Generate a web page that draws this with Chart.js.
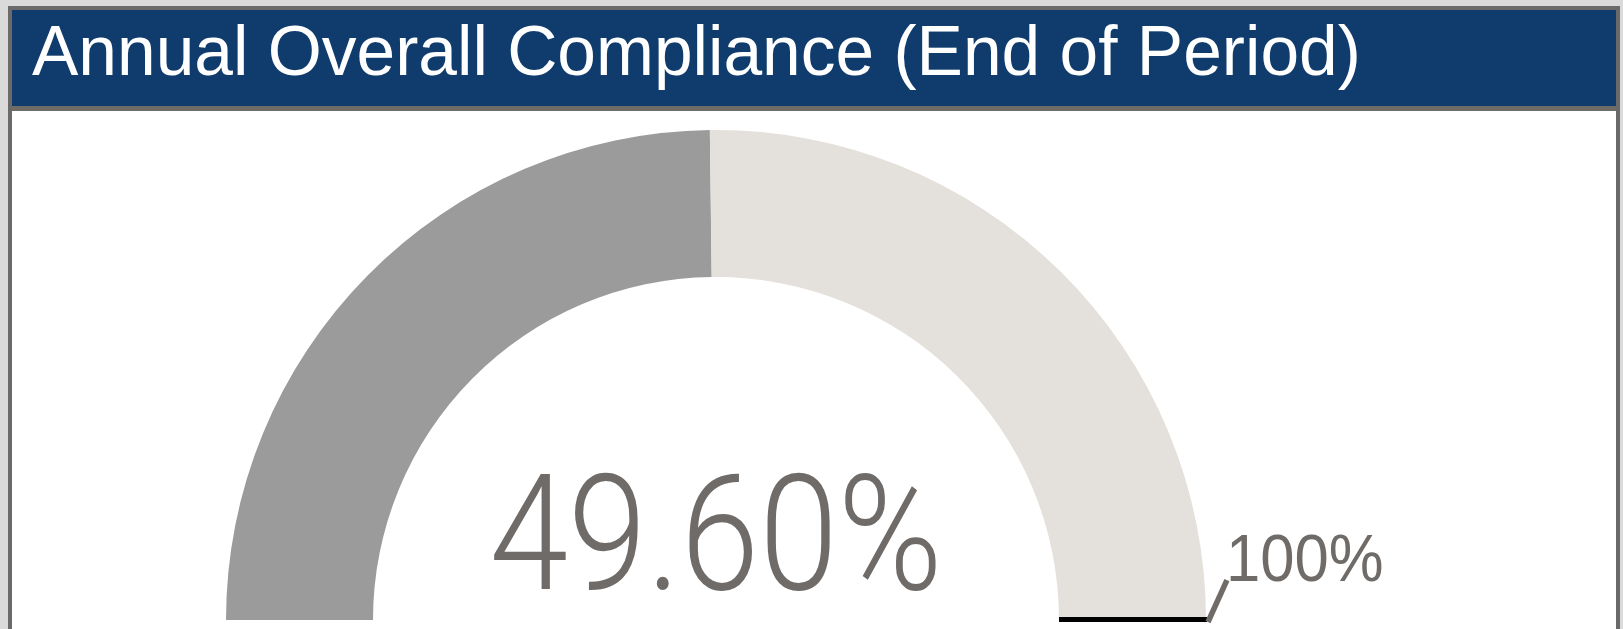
<!DOCTYPE html>
<html>
<head>
<meta charset="utf-8">
<script src="https://cdn.jsdelivr.net/npm/chart.js@4/dist/chart.umd.min.js"></script>
<style>
    html, body { margin: 0; padding: 0; }
    body { width: 1623px; height: 629px; background: #dadada; overflow: hidden; position: relative; }
    .panel {
        position: absolute; left: 8px; top: 6px; width: 1604px; height: 700px;
        border: 4px solid #6b6a69; border-bottom: none; background: #ffffff;
    }
    .panel-title {
        height: 89px; padding: 7px 0 0 20px; background: #0f3c6c;
        border-bottom: 5px solid #6f6b67;
        font-family: "Liberation Sans", Arial, sans-serif; font-size: 69.5px; line-height: 68px;
        color: #ffffff; white-space: nowrap;
    }
    .chart-wrap { position: absolute; left: 0; top: 101px; width: 1604px; height: 518px; }
</style>
</head>
<body>
<div class="panel">
    <div class="panel-title">Annual Overall Compliance (End of Period)</div>
    <div class="chart-wrap"><canvas id="gaugeChart"></canvas></div>
</div>
<script>
// Gauge data
const gaugeLabels = ['Compliant', 'Remaining'];
const gaugeValues = [49.6, 50.4];
const gaugeMax = 100;
const gaugeColors = ['#9b9b9b', '#e4e0db'];

const textColor = '#6f6b68';

// Draws the value in the middle, the black base edge and the 100% marker
const gaugeExtras = {
    id: 'gaugeExtras',
    afterDatasetsDraw(chart) {
        const ctx = chart.ctx;
        const meta = chart.getDatasetMeta(0);
        const rest = meta.data[1];
        if (!rest) return;
        const { x, y, innerRadius, outerRadius } = rest;

        ctx.save();
        // base edge of the unfilled part
        ctx.strokeStyle = '#000000';
        ctx.lineWidth = 5;
        ctx.beginPath();
        ctx.moveTo(x + innerRadius, y - 0.5);
        ctx.lineTo(x + outerRadius + 1, y - 0.5);
        ctx.stroke();

        // max marker
        const ang = 65.7 * Math.PI / 180;
        const sx = x + outerRadius + 2, sy = y + 2;
        ctx.strokeStyle = '#6f6b67';
        ctx.lineWidth = 5.5;
        ctx.beginPath();
        ctx.moveTo(sx, sy);
        ctx.lineTo(sx + 46 * Math.cos(ang), sy - 46 * Math.sin(ang));
        ctx.stroke();

        ctx.fillStyle = textColor;
        ctx.textBaseline = 'alphabetic';
        ctx.font = '67px "Liberation Sans", Arial, sans-serif';
        ctx.textAlign = 'left';
        ctx.save();
        ctx.translate(x + outerRadius + 20, y - 39);
        ctx.scale(0.92, 1);
        ctx.fillText(gaugeMax + '%', 0, 0);
        ctx.restore();

        // center value
        const label = gaugeValues[0].toFixed(2) + '%';
        ctx.font = '300 162px Roboto, sans-serif';
        ctx.textAlign = 'center';
        ctx.translate(x, y - 31);
        ctx.scale(0.875, 1);
        ctx.fillText(label, 0, 0);
        ctx.restore();
    }
};

new Chart(document.getElementById('gaugeChart'), {
    type: 'doughnut',
    data: {
        labels: gaugeLabels,
        datasets: [{
            data: gaugeValues, backgroundColor: gaugeColors,
            borderWidth: 0, hoverOffset: 0
        }]
    },
    options: {
        responsive: true, maintainAspectRatio: false, animation: false,
        rotation: -90, circumference: 180, cutout: '70%',
        layout: { padding: { left: 214, top: 19, right: 410, bottom: 9 } },
        plugins: { legend: { display: false }, tooltip: { enabled: false } }
    },
    plugins: [gaugeExtras]
});
</script>
</body>
</html>
